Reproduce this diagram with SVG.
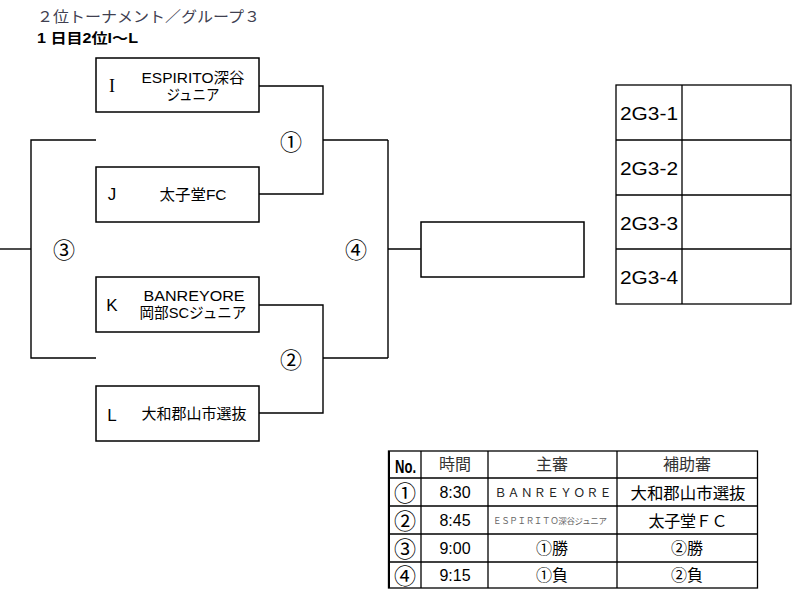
<svg xmlns="http://www.w3.org/2000/svg" width="800" height="604" viewBox="0 0 800 604">
<style>
text{font-family:"Liberation Sans","Noto Sans CJK JP",sans-serif;fill:#000}
.box{fill:#fff;stroke:#000;stroke-width:1.5}
.ln{fill:none;stroke:#000;stroke-width:1.4}
.c{text-anchor:middle}
.num{font-size:22px;text-anchor:middle}
.team{font-size:15px;text-anchor:middle}
.let{font-size:17px;text-anchor:middle}
.tb{font-size:16px;text-anchor:middle}
.grid{fill:none;stroke:#000;stroke-width:1.3}
.rk{font-size:18px;font-weight:normal}
</style>
<rect width="800" height="604" fill="#fff"/>
<text x="37" y="22" font-size="15" fill="#404050" style="fill:#404050" textLength="223" lengthAdjust="spacingAndGlyphs">２位トーナメント／グループ３</text>
<text x="37" y="43" font-size="14" font-weight="bold" textLength="101" lengthAdjust="spacingAndGlyphs">1 日目2位I～L</text>

<g id="connectors">
<polyline class="ln" points="259,86 323,86 323,194 259,194"/>
<polyline class="ln" points="259,305 323,305 323,413 259,413"/>
<line class="ln" x1="323" y1="140" x2="388" y2="140"/>
<line class="ln" x1="323" y1="358" x2="388" y2="358"/>
<polyline class="ln" points="96,140 31,140 31,358 96,358"/>
<line class="ln" x1="0" y1="249" x2="31" y2="249"/>
<line class="ln" x1="388" y1="140" x2="388" y2="358"/>
<line class="ln" x1="388" y1="249" x2="421" y2="249"/>
</g>

<g id="node-I">
<rect class="box" x="96" y="58" width="163" height="54"/>
<text x="112" y="92" font-size="18" style="font-family:'Liberation Serif',serif" text-anchor="middle">I</text>
<text class="team" x="193" y="83" textLength="103" lengthAdjust="spacingAndGlyphs">ESPIRITO深谷</text>
<text class="team" x="193" y="100" font-size="14" textLength="53" lengthAdjust="spacingAndGlyphs">ジュニア</text>
</g>
<g id="node-J">
<rect class="box" x="96" y="167" width="163" height="55"/>
<text class="let" x="112" y="200">J</text>
<text class="team" x="193" y="200" font-size="14" textLength="67" lengthAdjust="spacingAndGlyphs">太子堂FC</text>
</g>
<g id="node-K">
<rect class="box" x="96" y="277" width="163" height="55"/>
<text class="let" x="112" y="311">K</text>
<text class="team" x="194" y="301" textLength="101" lengthAdjust="spacingAndGlyphs">BANREYORE</text>
<text class="team" x="193" y="318" textLength="107" lengthAdjust="spacingAndGlyphs">岡部SCジュニア</text>
</g>
<g id="node-L">
<rect class="box" x="96" y="386" width="163" height="55"/>
<text class="let" x="112" y="421">L</text>
<text class="team" x="194" y="419" textLength="105" lengthAdjust="spacingAndGlyphs">大和郡山市選抜</text>
</g>

<g id="match-labels">
<text class="num" x="291" y="150">①</text>
<text class="num" x="291" y="368">②</text>
<text class="num" x="64" y="258">③</text>
<text class="num" x="356" y="258">④</text>
</g>

<g id="node-final">
<rect class="box" x="421" y="222" width="163" height="55"/>
</g>

<g id="ranking">
<rect class="grid" x="616" y="85" width="175" height="219"/>
<line class="grid" x1="682" y1="85" x2="682" y2="304"/>
<line class="grid" x1="616" y1="140" x2="791" y2="140"/>
<line class="grid" x1="616" y1="195" x2="791" y2="195"/>
<line class="grid" x1="616" y1="249" x2="791" y2="249"/>
<text class="rk" x="620" y="120" textLength="58" lengthAdjust="spacingAndGlyphs">2G3-1</text>
<text class="rk" x="620" y="175" textLength="58" lengthAdjust="spacingAndGlyphs">2G3-2</text>
<text class="rk" x="620" y="230" textLength="58" lengthAdjust="spacingAndGlyphs">2G3-3</text>
<text class="rk" x="620" y="284" textLength="58" lengthAdjust="spacingAndGlyphs">2G3-4</text>
</g>

<g id="schedule">
<rect class="grid" x="388.5" y="451" width="369" height="137"/>
<line x1="389" y1="451" x2="389" y2="588" stroke="#000" stroke-width="2"/>
<line class="grid" x1="421" y1="451" x2="421" y2="588"/>
<line class="grid" x1="488" y1="451" x2="488" y2="588"/>
<line class="grid" x1="617" y1="451" x2="617" y2="588"/>
<line class="grid" x1="388" y1="478" x2="757" y2="478"/>
<line class="grid" x1="388" y1="506" x2="757" y2="506"/>
<line class="grid" x1="388" y1="534" x2="757" y2="534"/>
<line class="grid" x1="388" y1="562" x2="757" y2="562"/>
<text x="395" y="473" font-size="19" font-weight="bold" textLength="21" lengthAdjust="spacingAndGlyphs">No.</text>
<text class="tb" x="455" y="470" fill="#333" style="fill:#333">時間</text>
<text class="tb" x="552" y="470" fill="#333" style="fill:#333">主審</text>
<text class="tb" x="687" y="470" fill="#333" style="fill:#333">補助審</text>

<text class="num" x="405" y="501">①</text>
<text class="tb" x="455" y="498">8:30</text>
<text x="553" y="497" font-size="12" text-anchor="middle" fill="#222" style="fill:#222" textLength="117" lengthAdjust="spacing">ＢＡＮＲＥＹＯＲＥ</text>
<text class="tb" x="688" y="499" textLength="115" lengthAdjust="spacingAndGlyphs">大和郡山市選抜</text>

<text class="num" x="405" y="529">②</text>
<text class="tb" x="455" y="526">8:45</text>
<text x="550" y="524" font-size="8.5" text-anchor="middle" fill="#666" style="fill:#666" textLength="114" lengthAdjust="spacing">ＥＳＰＩＲＩＴＯ深谷ジュニア</text>
<text class="tb" x="688" y="527" textLength="79" lengthAdjust="spacing">太子堂ＦＣ</text>

<text class="num" x="405" y="557">③</text>
<text class="tb" x="455" y="554">9:00</text>
<text class="tb" x="552" y="554">①勝</text>
<text class="tb" x="687" y="554">②勝</text>

<text class="num" x="405" y="584">④</text>
<text class="tb" x="455" y="581">9:15</text>
<text class="tb" x="552" y="581">①負</text>
<text class="tb" x="687" y="581">②負</text>
</g>
</svg>
